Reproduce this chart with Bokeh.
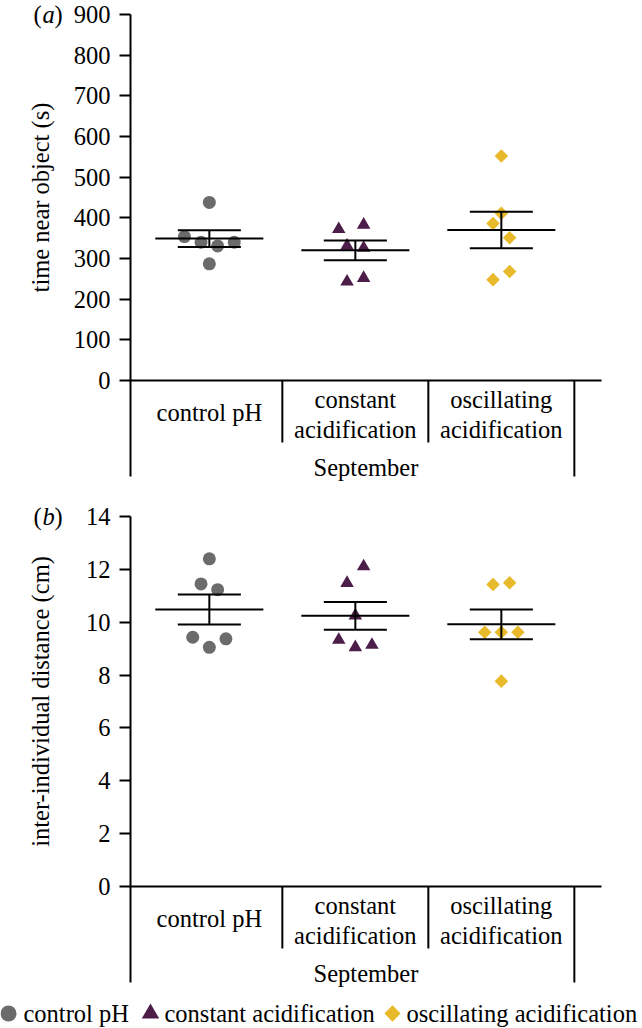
import math
from bokeh.plotting import figure
from bokeh.layouts import column
from bokeh.models import FixedTicker
from bokeh.core.properties import value
from bokeh.embed import file_html
from bokeh.resources import INLINE

FONT = "Liberation Serif"
FS = "24.5px"

# ---------------- data ----------------
group_names = ["control pH", "constant acidification", "oscillating acidification"]
group_tick_lines = [["control pH"], ["constant", "acidification"], ["oscillating", "acidification"]]
month_label = "September"

# panel (a): time near object (s)
a_control = [438, 354, 340, 331, 340, 287]
a_constant = [372, 383, 331, 326, 243, 252]
a_oscillating = [552, 411, 386, 351, 268, 248]
a_mean = [349, 320, 370]
a_sem = [20.5, 24.5, 45]
a_ticks = [0, 100, 200, 300, 400, 500, 600, 700, 800, 900]

# panel (b): inter-individual distance (cm)
b_control = [12.40, 11.45, 11.23, 9.43, 9.37, 9.05]
b_constant = [12.11, 11.48, 10.25, 9.33, 9.14, 9.05]
b_oscillating = [11.43, 11.49, 9.62, 9.62, 9.62, 7.77]
b_mean = [10.48, 10.24, 9.92]
b_sem = [0.57, 0.525, 0.56]
b_ticks = [0, 2, 4, 6, 8, 10, 12, 14]

# horizontal dodge slots of the points (scatter-dot arrangement)
a_slots = [[0, -1.5, -0.5, 0.5, 1.5, 0],
           [-1, 0.5, -0.5, 0.5, -0.5, 0.5],
           [0, 0, -0.5, 0.5, 0.5, -0.5]]
b_slots = [[0, -0.5, 0.5, -1, 1, 0],
           [0.5, -0.5, 0, -1, 1, 0],
           [-0.5, 0.5, -1, 0, 1, 0]]

# ---------------- styles / layout ----------------
colors = ["#6b6b6b", "#4b1d48", "#e8ba2b"]
markers = ["circle", "triangle", "square"]
msizes = [13, 13.5, 9.6]
mangles = [0, 0, math.pi / 4]

W = 642
AXIS_PX = 130          # y-axis position from the left edge of the figure
PX_PER_X = 146.0
X0 = 0.46              # data x at the y-axis
XL = X0 - AXIS_PX / PX_PER_X
XR = X0 + (W - AXIS_PX) / PX_PER_X
SLOT = 16.6 / PX_PER_X
MEAN_HALF = 0.37
CAP_HALF = 0.216
BASE_RIGHT_PX = 471    # baseline length right of the axis


def xoff(px):
    return X0 + px / PX_PER_X


def make_panel(series, slots, means, sems, ticks, ylabel, tag,
               height, top_px, zero_px, label_standoff):
    """top_px: px from figure top to the highest tick; zero_px: px from figure top to 0."""
    ytop = ticks[-1]
    per_px = ytop / (zero_px - top_px)
    yr_top = zero_px * per_px
    yr_bot = -(height - zero_px) * per_px

    p = figure(width=W, height=height, x_range=(XL, XR), y_range=(yr_bot, yr_top),
               output_backend="svg", toolbar_location=None, x_axis_location=None,
               min_border=0)
    p.outline_line_color = None
    p.grid.visible = False
    p.background_fill_color = "white"
    p.border_fill_color = "white"

    ax = p.yaxis[0]
    ax.fixed_location = X0
    ax.ticker = FixedTicker(ticks=ticks, minor_ticks=[])
    ax.bounds = (0, ytop)
    ax.axis_line_width = 2
    ax.axis_line_color = "black"
    ax.major_tick_line_width = 2
    ax.major_tick_line_color = "black"
    ax.major_tick_out = 11
    ax.major_tick_in = 0
    ax.minor_tick_out = 0
    ax.minor_tick_in = 0
    ax.major_label_standoff = 9
    ax.major_label_text_font = FONT
    ax.major_label_text_font_size = FS
    ax.major_label_text_color = "black"
    ax.axis_label = ylabel
    ax.axis_label_text_font = FONT
    ax.axis_label_text_font_size = FS
    ax.axis_label_text_font_style = "normal"
    ax.axis_label_text_color = "black"
    ax.axis_label_standoff = label_standoff

    inner_bottom = -62 * per_px
    outer_bottom = -96 * per_px

    # baseline, left bracket line below the baseline, category separators
    p.segment(x0=[X0], y0=[0], x1=[xoff(BASE_RIGHT_PX)], y1=[0], line_width=2, line_color="black")
    sep_x = [X0, 1.5, 2.5, 3.5]
    sep_y1 = [outer_bottom, inner_bottom, inner_bottom, outer_bottom]
    p.segment(x0=sep_x, y0=[0] * 4, x1=sep_x, y1=sep_y1, line_width=2, line_color="black")

    # category labels
    tx, ty, tt = [], [], []
    for i, lines in enumerate(group_tick_lines):
        offs = [32] if len(lines) == 1 else [19, 49]
        for ln, o in zip(lines, offs):
            tx.append(i + 1)
            ty.append(-o * per_px)
            tt.append(ln)
    tx.append(xoff(BASE_RIGHT_PX / 2))
    ty.append(-87 * per_px)
    tt.append(month_label)
    p.text(x=tx, y=ty, text=tt, text_font=value(FONT), text_font_size=FS,
           text_align="center", text_baseline="middle", text_color="black")

    # points
    for i, (vals, sl) in enumerate(zip(series, slots)):
        xs = [i + 1 + s * SLOT for s in sl]
        p.scatter(xs, vals, marker=markers[i], size=msizes[i], angle=mangles[i],
                  fill_color=colors[i], line_color=None)

    # mean +/- SEM
    xc = [1, 2, 3]
    lo = [m - s for m, s in zip(means, sems)]
    hi = [m + s for m, s in zip(means, sems)]
    p.segment(x0=[x - MEAN_HALF for x in xc], y0=means, x1=[x + MEAN_HALF for x in xc], y1=means,
              line_width=2, line_color="black")
    p.segment(x0=xc, y0=lo, x1=xc, y1=hi, line_width=2, line_color="black")
    p.segment(x0=[x - CAP_HALF for x in xc], y0=lo, x1=[x + CAP_HALF for x in xc], y1=lo,
              line_width=2, line_color="black")
    p.segment(x0=[x - CAP_HALF for x in xc], y0=hi, x1=[x + CAP_HALF for x in xc], y1=hi,
              line_width=2, line_color="black")

    # panel tag "(a)" / "(b)"
    p.text(x=[xoff(-97), xoff(-76)], y=[ytop, ytop], text=["(", ")"], text_font=value(FONT),
           text_font_size=FS, text_align="left", text_baseline="middle", text_color="black")
    p.text(x=[xoff(-88)], y=[ytop], text=[tag], text_font=value(FONT), text_font_style="italic",
           text_font_size=FS, text_align="left", text_baseline="middle", text_color="black")
    return p


pa = make_panel([a_control, a_constant, a_oscillating], a_slots, a_mean, a_sem, a_ticks,
                "time near object (s)", "a", height=500, top_px=14, zero_px=380,
                label_standoff=17)
pb = make_panel([b_control, b_constant, b_oscillating], b_slots, b_mean, b_sem, b_ticks,
                "inter-individual distance (cm)", "b", height=490, top_px=16, zero_px=386,
                label_standoff=29)

# ---------------- legend strip ----------------
LH = 38
leg = figure(width=W, height=LH, x_range=(0, W), y_range=(0, LH), output_backend="svg",
             toolbar_location=None, min_border=0, x_axis_location=None, y_axis_location=None)
leg.outline_line_color = None
leg.grid.visible = False
leg_marker_x = [8, 150, 392]
leg_text_x = [23, 164, 406]
leg_y = 15
leg_sizes = [16, 17.5, 11.5]
for i in range(3):
    leg.scatter([leg_marker_x[i]], [leg_y], marker=markers[i], size=leg_sizes[i], angle=mangles[i],
                fill_color=colors[i], line_color=None)
leg.text(x=leg_text_x, y=[leg_y] * 3, text=group_names, text_font=value(FONT),
         text_font_size=FS, text_align="left", text_baseline="middle", text_color="black")

layout = column(pa, pb, leg, spacing=0)
open("out.html", "w").write(file_html(layout, INLINE))
